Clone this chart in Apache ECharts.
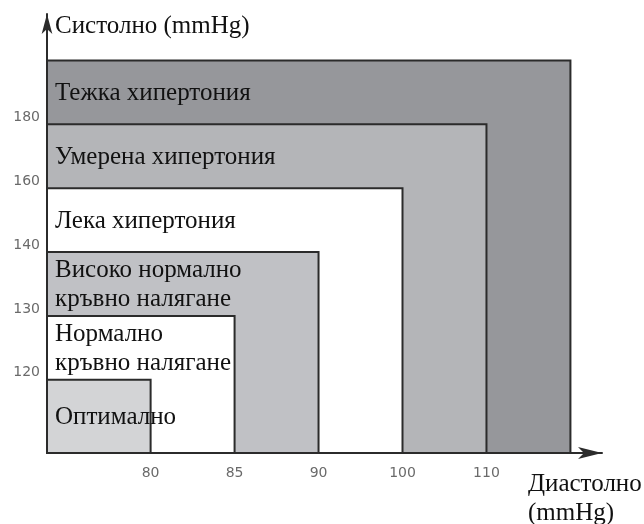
<!DOCTYPE html>
<html>
<head>
<meta charset="utf-8">
<script src="https://cdn.jsdelivr.net/npm/echarts@6/dist/echarts.min.js"></script>
<style>
  html, body { margin: 0; padding: 0; background: #ffffff; }
  #chart { width: 644px; height: 524px; }
</style>
</head>
<body>
<div id="chart"></div>
<script>
// граници по осите (последната стойност е външният ръб, без надпис)
const diastolic = [80, 85, 90, 100, 110, 115]
const systolic = [120, 130, 140, 160, 180, 190]
// категории от най-ниската към най-високата
const categories = [
  'Оптимално',
  'Нормално\nкръвно налягане',
  'Високо нормално\nкръвно налягане',
  'Лека хипертония',
  'Умерена хипертония',
  'Тежка хипертония'
]
const bandColors = ['#d3d4d6', '#ffffff', '#c0c1c5', '#ffffff', '#b4b5b8', '#96979b']

const labelIdx = [0, 1, 2, 3, 4]
// рисуваме от най-голямата към най-малката кутия
const boxes = categories.map((name, i) => [i, i, name]).reverse()

const myChart = echarts.init(document.getElementById('chart'))

const option = {
  animation: false,
  grid: { left: 47, right: 42, top: 14, bottom: 71, outerBoundsMode: 'none', containLabel: false },
  xAxis: {
    type: 'value',
    min: -1.234,
    max: 5.376,
    name: 'Диастолно\n(mmHg)',
    nameLocation: 'end',
    nameGap: -74,
    nameTextStyle: {
      fontFamily: 'Liberation Serif',
      fontSize: 25,
      color: '#111',
      align: 'left',
      verticalAlign: 'top',
      lineHeight: 29,
      padding: [17, 0, 0, 0]
    },
    splitLine: { show: false },
    axisTick: { show: false },
    axisLine: {
      onZero: false,
      symbol: ['none', 'arrow'],
      symbolSize: [9, 24],
      lineStyle: { color: '#2b2b2b', width: 2 }
    },
    axisLabel: {
      customValues: labelIdx,
      formatter: (v) => String(diastolic[v]),
      margin: 13,
      fontFamily: 'DejaVu Sans',
      fontSize: 14,
      color: '#6a6a6a'
    }
  },
  yAxis: {
    type: 'value',
    min: -1.146,
    max: 5.728,
    name: 'Систолно (mmHg)',
    nameLocation: 'end',
    nameGap: -12,
    nameTextStyle: {
      fontFamily: 'Liberation Serif',
      fontSize: 25,
      color: '#111',
      align: 'left',
      verticalAlign: 'middle',
      padding: [0, 0, 0, 8]
    },
    splitLine: { show: false },
    axisTick: { show: false },
    axisLine: {
      onZero: false,
      symbol: ['none', 'arrow'],
      symbolSize: [8, 20],
      lineStyle: { color: '#2b2b2b', width: 2 }
    },
    axisLabel: {
      customValues: labelIdx,
      formatter: (v) => String(systolic[v]),
      margin: 7,
      verticalAlign: 'bottom',
      fontFamily: 'DejaVu Sans',
      fontSize: 14,
      color: '#6a6a6a'
    }
  },
  series: [
    {
      type: 'custom',
      data: boxes,
      encode: { x: 0, y: 1 },
      renderItem: (params, api) => {
        const i = api.value(0)
        const cs = params.coordSys
        const left = cs.x
        const bottom = cs.y + cs.height
        const corner = api.coord([i, i])
        const lower = i > 0 ? api.coord([0, i - 1])[1] : bottom
        return {
          type: 'group',
          children: [
            {
              type: 'rect',
              shape: { x: left, y: corner[1], width: corner[0] - left, height: bottom - corner[1] },
              style: { fill: bandColors[i], stroke: '#2b2b2b', lineWidth: 2 }
            },
            {
              type: 'text',
              style: {
                text: categories[i],
                x: left + 8,
                y: (corner[1] + lower) / 2 + 1,
                verticalAlign: 'middle',
                align: 'left',
                fontFamily: 'Liberation Serif',
                fontSize: 25,
                lineHeight: 29,
                fill: '#111'
              }
            }
          ]
        }
      }
    }
  ]
}

myChart.setOption(option, true)
addEventListener('resize', () => {
  myChart.resize()
})
</script>
</body>
</html>
